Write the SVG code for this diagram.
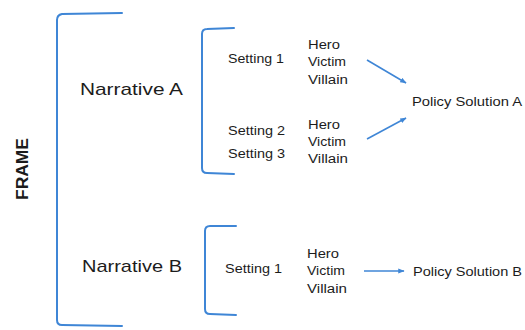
<svg xmlns="http://www.w3.org/2000/svg" width="525" height="330" viewBox="0 0 525 330">
<defs>
<style>
.br{fill:none;stroke:#3f86d6;stroke-width:2;stroke-linecap:round}
.ar{fill:none;stroke:#3f86d6;stroke-width:1.6;marker-end:url(#ah)}
text{font-family:"Liberation Sans",Arial,sans-serif;fill:#1c1c1c}
.s{font-size:12.5px}
.n{font-size:17px}
.f{font-size:16px;font-weight:bold}
</style>
<marker id="ah" viewBox="0 0 10 10" refX="9" refY="5" markerWidth="4" markerHeight="4" orient="auto" markerUnits="strokeWidth">
<path d="M0,1 L10,5 L0,9 z" fill="#3f86d6"/>
</marker>
</defs>
<rect width="525" height="330" fill="#fff"/>
<g id="frame">
<path class="br" d="M122,13 L62,14 Q57,15 57,20 L57,320 Q57,325 62,325 L122,326"/>
<text class="f" transform="translate(28,169) rotate(-90)" text-anchor="middle" textLength="62" lengthAdjust="spacingAndGlyphs">FRAME</text>
</g>
<g id="narrative-a">
<text class="n" x="80" y="95" textLength="103" lengthAdjust="spacingAndGlyphs">Narrative A</text>
<path class="br" d="M234,28 L207,29 Q202,29 202,34 L202,168 Q202,173 207,173 L234,174"/>
</g>
<g id="narrative-b">
<text class="n" x="82" y="272" textLength="100" lengthAdjust="spacingAndGlyphs">Narrative B</text>
<path class="br" d="M236,226 L210,226 Q205,226 205,231 L205,309 Q205,314 210,314 L236,315"/>
</g>
<g id="settings-a1">
<text class="s" x="228" y="62.5" textLength="56" lengthAdjust="spacingAndGlyphs">Setting 1</text>
</g>
<g id="settings-a2">
<text class="s" x="228" y="134.5" textLength="57" lengthAdjust="spacingAndGlyphs">Setting 2</text>
<text class="s" x="228" y="157.5" textLength="57" lengthAdjust="spacingAndGlyphs">Setting 3</text>
</g>
<g id="settings-b">
<text class="s" x="225" y="272.5" textLength="57" lengthAdjust="spacingAndGlyphs">Setting 1</text>
</g>
<g id="roles-a1">
<text class="s" x="308" y="48.5" textLength="32" lengthAdjust="spacingAndGlyphs">Hero</text>
<text class="s" x="308" y="66" textLength="38" lengthAdjust="spacingAndGlyphs">Victim</text>
<text class="s" x="308" y="83.5" textLength="40" lengthAdjust="spacingAndGlyphs">Villain</text>
</g>
<g id="roles-a2">
<text class="s" x="308" y="128.5" textLength="32" lengthAdjust="spacingAndGlyphs">Hero</text>
<text class="s" x="308" y="145.5" textLength="38" lengthAdjust="spacingAndGlyphs">Victim</text>
<text class="s" x="308" y="162.5" textLength="40" lengthAdjust="spacingAndGlyphs">Villain</text>
</g>
<g id="roles-b">
<text class="s" x="307" y="257.5" textLength="32" lengthAdjust="spacingAndGlyphs">Hero</text>
<text class="s" x="307" y="275" textLength="38" lengthAdjust="spacingAndGlyphs">Victim</text>
<text class="s" x="307" y="292.5" textLength="40" lengthAdjust="spacingAndGlyphs">Villain</text>
</g>
<g id="policy-a">
<text class="s" x="412" y="105.5" textLength="110" lengthAdjust="spacingAndGlyphs">Policy Solution A</text>
</g>
<g id="policy-b">
<text class="s" x="413" y="275.5" textLength="109" lengthAdjust="spacingAndGlyphs">Policy Solution B</text>
</g>
<g id="connectors">
<line class="ar" x1="367" y1="60" x2="406" y2="83"/>
<line class="ar" x1="367" y1="139" x2="406" y2="118"/>
<line class="ar" x1="364" y1="271" x2="404" y2="271"/>
</g>
</svg>
